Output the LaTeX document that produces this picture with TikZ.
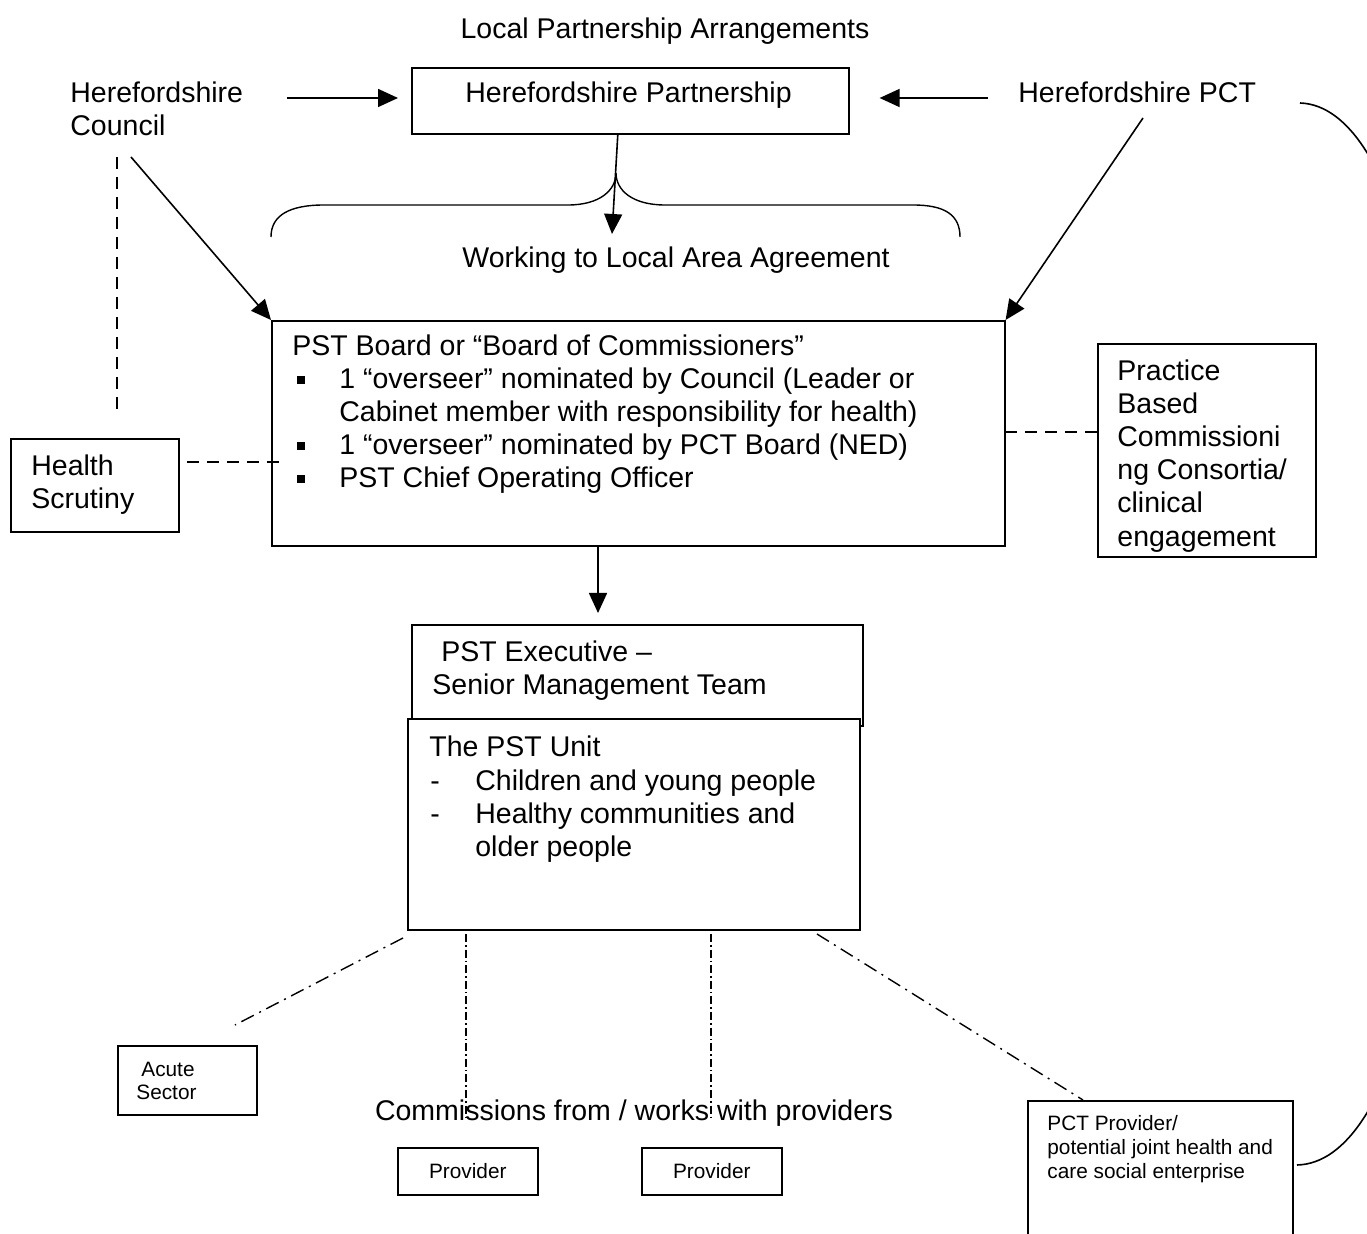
\documentclass[tikz,border=0pt]{standalone}
\usepackage{fontspec}
\setmainfont{Liberation Sans}
\usetikzlibrary{arrows.meta,calc}

\newcommand{\normtxt}{\fontsize{14.25pt}{16.5pt}\selectfont}
\newcommand{\smalltxt}{\fontsize{10.4pt}{12.25pt}\selectfont}

\begin{document}
\begin{tikzpicture}[x=0.5pt,y=-0.5pt,
    box/.style={draw,line width=0.8pt,inner sep=0pt,anchor=north west},
    txt/.style={inner sep=0pt,anchor=base west,font=\normtxt},
    stxt/.style={inner sep=0pt,anchor=base west,font=\smalltxt},
    arr/.style={line width=0.8pt,-{Triangle[length=10pt,width=9pt]}},
    dashlink/.style={line width=0.7pt,dash pattern=on 6pt off 4pt},
    dotlink/.style={line width=0.7pt,dash pattern=on 7pt off 3pt on 1pt off 3pt},
    vlink/.style={line width=0.7pt,dash pattern=on 4pt off 1.5pt on 0.8pt off 1.5pt}
  ]
  \clip (0,0) rectangle (1367,1234);

  % the top row
  \node[txt,anchor=base] (title) at (665,39) {Local Partnership Arrangements};
  \node[txt] (council1) at (70,103) {Herefordshire};
  \node[txt] (council2) at (70,136) {Council};
  \node[box,minimum width=218.5pt,minimum height=33pt] (hpart) at (411,67) {};
  \node[txt] (hpartTxt) at (465,103) {Herefordshire Partnership};
  \node[txt] (pct) at (1018,103) {Herefordshire PCT};

  % the brace and the agreement
  \draw[line width=0.7pt] (271,237) .. controls (271,215) and (290,205) .. (324,205) -- (568,205)
    .. controls (600,205) and (616,190) .. (616,173)
    .. controls (616,190) and (632,205) .. (665,205) -- (913,205)
    .. controls (945,205) and (960,215) .. (960,237);
  \node[txt,anchor=base] (laa) at (676,268) {Working to Local Area Agreement};

  % the boxes
  \node[box,minimum width=366.5pt,minimum height=112.5pt] (board) at (271,320) {};
  \node[box,minimum width=84pt,minimum height=46.5pt] (scrutiny) at (10,438) {};
  \node[box,minimum width=109pt,minimum height=106.5pt] (practice) at (1097,343) {};
  \node[box,minimum width=225.5pt,minimum height=50.5pt] (exec) at (411,624) {};
  \node[box,fill=white,minimum width=226pt,minimum height=105.5pt] (unit) at (407,718) {};
  \node[box,minimum width=69.5pt,minimum height=34.5pt] (acute) at (117,1045) {};
  \node[box,minimum width=70pt,minimum height=23.5pt,font=\smalltxt] (prov1) at (397,1147) {Provider};
  \node[box,minimum width=70pt,minimum height=23.5pt,font=\smalltxt] (prov2) at (641,1147) {Provider};
  \node[box,minimum width=132.5pt,minimum height=75pt] (pctprov) at (1027,1100) {};

  % the texts in the boxes
  \foreach \xp/\yp/\t [count=\i] in {292/356/{PST Board or “Board of Commissioners”},
      339/389/{1 “overseer” nominated by Council (Leader or},
      339/422/{Cabinet member with responsibility for health)},
      339/455/{1 “overseer” nominated by PCT Board (NED)},
      339/488/{PST Chief Operating Officer}}
    \node[txt] (board\i) at (\xp,\yp) {\t};
  \foreach \yp in {389,455,488}
    \node[txt] (bul\yp) at (297,\yp) {\rule[2.5pt]{4pt}{4pt}};

  \node[txt] (scrutiny1) at (31,476) {Health};
  \node[txt] (scrutiny2) at (31,509) {Scrutiny};

  \begin{scope}
    \clip (practice.north west) rectangle ([yshift=2pt]practice.south east);
    \foreach \yp/\t [count=\i] in {381/{Practice},414/{Based},447/{Commissioni},
        480/{ng Consortia/},513/{clinical},547/{engagement}}
      \node[txt] (practice\i) at (1117,\yp) {\t};
  \end{scope}

  \node[txt] (exec1) at (441,662) {PST Executive –};
  \node[txt] (exec2) at (432,695) {Senior Management Team};

  \node[txt] (unit1) at (429,757) {The PST Unit};
  \foreach \yp/\t [count=\i] in {791/{Children and young people},824/{Healthy communities and},857/{older people}}
    \node[txt] (unititem\i) at (475,\yp) {\t};
  \node[txt] (dash1) at (430,791) {-};
  \node[txt] (dash2) at (430,824) {-};

  \node[stxt] (acute1) at (141,1077) {Acute};
  \node[stxt] (acute2) at (136,1100) {Sector};

  \foreach \yp/\t [count=\i] in {1131/{PCT Provider/},1155/{potential joint health and},1179/{care social enterprise}}
    \node[stxt] (pctprov\i) at (1047,\yp) {\t};

  \node[txt,anchor=base] (comm) at (634,1121) {Commissions from / works with providers};

  % the free ends
  \coordinate (c1) at (287,98);
  \coordinate (c2) at (988,98);
  \coordinate (c3) at (131,157);
  \coordinate (c4) at (1143,118);
  \coordinate (lae) at (612,234);
  \coordinate (hs1) at (117,157);
  \coordinate (hs2) at (117,415);
  \coordinate (sl) at (187,462);
  \coordinate (pl) at (1005,432);
  \coordinate (bx) at (598,545);
  \coordinate (ac) at (235,1025);
  \coordinate (u1) at (403,938);
  \coordinate (v1) at (466,934);
  \coordinate (v2) at (711,934);
  \coordinate (u2) at (817,934);
  \coordinate (pc1) at (1300,103);
  \coordinate (pc2) at (1297,1165);

  % the arrows
  \draw[arr,shorten >=6.5pt] (c1) -- (hpart.west |- c1);
  \draw[arr,shorten >=15pt] (c2) -- (hpart.east |- c2);
  \draw[arr] ([xshift=-6.25pt]hpart.south) -- (lae);
  \draw[arr] (c3) -- (board.north west);
  \draw[arr] (c4) -- (board.north east);
  \draw[arr,shorten >=5.5pt] (bx) -- (exec.north -| bx);

  % the dashed links
  \draw[dashlink] (hs1) -- (hs2);
  \draw[dashlink] (sl) -- ([xshift=5pt]board.west |- sl);
  \draw[dashlink] (pl) -- (practice.west |- pl);

  % the links to the providers
  \draw[dotlink] (u1) -- (ac);
  \draw[vlink] (v1) -- ([yshift=13.5pt]v1 |- prov1.north);
  \draw[vlink] (v2) -- ([yshift=13.5pt]v2 |- prov2.north);
  \draw[dotlink] (u2) -- (pctprov.north -| 1083,0);

  % the curve round to the PCT provider
  \draw[line width=0.8pt] (pc1) .. controls (1500,110) and (1500,1160) .. (pc2);
\end{tikzpicture}
\end{document}
